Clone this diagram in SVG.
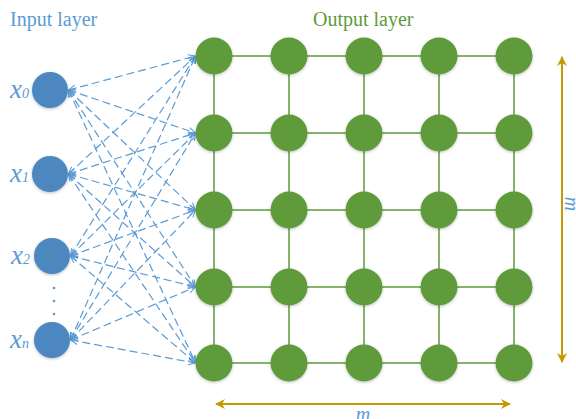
<svg xmlns="http://www.w3.org/2000/svg" width="576" height="419" viewBox="0 0 576 419">
  <style>
    .title { font-family: "Liberation Serif", "Times New Roman", serif; font-size: 20px; }
    .var { font-family: "Liberation Serif", "Times New Roman", serif; font-style: italic; fill: #5B9BD5; }
    .in { fill: #4E87C0; filter: url(#shadow); }
    .out { fill: #5E9A3B; filter: url(#shadow); }
    .grid line { stroke: #5E9A3B; stroke-width: 1.5; }
    .link { stroke: #5B9BD5; stroke-width: 1.2; stroke-dasharray: 8 4; fill: none; marker-start: url(#vee); marker-end: url(#vee); }
    .dim { stroke: #C49A00; stroke-width: 2; marker-start: url(#tri); marker-end: url(#tri); }
  </style>
  <defs>
    <filter id="shadow" x="-30%" y="-30%" width="160%" height="160%">
      <feGaussianBlur in="SourceAlpha" stdDeviation="1.5"/>
      <feOffset dx="0" dy="1" result="b"/>
      <feFlood flood-color="#000" flood-opacity="0.25"/>
      <feComposite in2="b" operator="in"/>
      <feMerge><feMergeNode/><feMergeNode in="SourceGraphic"/></feMerge>
    </filter>
    <marker id="vee" viewBox="0 0 10 10" refX="10" refY="5" markerWidth="8" markerHeight="8" markerUnits="userSpaceOnUse" orient="auto-start-reverse">
      <path d="M1,1 L10,5 L1,9" fill="none" stroke="#5B9BD5" stroke-width="1.3"/>
    </marker>
    <marker id="tri" viewBox="0 0 10 10" refX="9" refY="5" markerWidth="10" markerHeight="10" markerUnits="userSpaceOnUse" orient="auto-start-reverse">
      <path d="M0,0 L10,5 L0,10 L3,5 Z" fill="#C49A00"/>
    </marker>
  </defs>

  <!-- layer titles -->
  <text class="title" x="10" y="26" fill="#5B9BD5">Input layer</text>
  <text class="title" x="313" y="26" fill="#5E9A3B">Output layer</text>

  <!-- lattice edges between output neurons -->
  <g id="grid" class="grid">
    <line x1="214" y1="56" x2="514" y2="56"/>
    <line x1="214" y1="133" x2="514" y2="133"/>
    <line x1="214" y1="210" x2="514" y2="210"/>
    <line x1="214" y1="287" x2="514" y2="287"/>
    <line x1="214" y1="363" x2="514" y2="363"/>
    <line x1="214" y1="56" x2="214" y2="363"/>
    <line x1="289" y1="56" x2="289" y2="363"/>
    <line x1="364" y1="56" x2="364" y2="363"/>
    <line x1="439" y1="56" x2="439" y2="363"/>
    <line x1="514" y1="56" x2="514" y2="363"/>
  </g>

  <!-- input-to-output connections -->
  <g id="connectors">
    <line class="link" x1="68.5" y1="90" x2="195.5" y2="56"/>
    <line class="link" x1="68.5" y1="90" x2="195.5" y2="133"/>
    <line class="link" x1="68.5" y1="90" x2="195.5" y2="210"/>
    <line class="link" x1="68.5" y1="90" x2="195.5" y2="287"/>
    <line class="link" x1="68.5" y1="90" x2="195.5" y2="363"/>
    <line class="link" x1="68.5" y1="174" x2="195.5" y2="56"/>
    <line class="link" x1="68.5" y1="174" x2="195.5" y2="133"/>
    <line class="link" x1="68.5" y1="174" x2="195.5" y2="210"/>
    <line class="link" x1="68.5" y1="174" x2="195.5" y2="287"/>
    <line class="link" x1="68.5" y1="174" x2="195.5" y2="363"/>
    <line class="link" x1="70.5" y1="256" x2="195.5" y2="56"/>
    <line class="link" x1="70.5" y1="256" x2="195.5" y2="133"/>
    <line class="link" x1="70.5" y1="256" x2="195.5" y2="210"/>
    <line class="link" x1="70.5" y1="256" x2="195.5" y2="287"/>
    <line class="link" x1="70.5" y1="256" x2="195.5" y2="363"/>
    <line class="link" x1="70.5" y1="340" x2="195.5" y2="56"/>
    <line class="link" x1="70.5" y1="340" x2="195.5" y2="133"/>
    <line class="link" x1="70.5" y1="340" x2="195.5" y2="210"/>
    <line class="link" x1="70.5" y1="340" x2="195.5" y2="287"/>
    <line class="link" x1="70.5" y1="340" x2="195.5" y2="363"/>
  </g>

  <!-- input neurons -->
  <g id="in0"><circle class="in" cx="50" cy="90" r="18"/><text class="var" x="10" y="98"><tspan font-size="27">x</tspan><tspan font-size="14">0</tspan></text></g>
  <g id="in1"><circle class="in" cx="50" cy="174" r="18"/><text class="var" x="10" y="182"><tspan font-size="27">x</tspan><tspan font-size="14">1</tspan></text></g>
  <g id="in2"><circle class="in" cx="52" cy="256" r="18"/><text class="var" x="11" y="264"><tspan font-size="27">x</tspan><tspan font-size="14">2</tspan></text></g>
  <g id="inn"><circle class="in" cx="52" cy="340" r="18"/><text class="var" x="10" y="348"><tspan font-size="27">x</tspan><tspan font-size="14">n</tspan></text></g>
  <g id="ellipsis" fill="#5B9BD5">
    <circle cx="54" cy="288" r="1.3"/>
    <circle cx="54" cy="301" r="1.3"/>
    <circle cx="54" cy="314" r="1.3"/>
  </g>

  <!-- output neurons, row by row -->
  <g id="out-r1">
    <circle class="out" cx="214" cy="56" r="18.5"/><circle class="out" cx="289" cy="56" r="18.5"/><circle class="out" cx="364" cy="56" r="18.5"/><circle class="out" cx="439" cy="56" r="18.5"/><circle class="out" cx="514" cy="56" r="18.5"/>
  </g>
  <g id="out-r2">
    <circle class="out" cx="214" cy="133" r="18.5"/><circle class="out" cx="289" cy="133" r="18.5"/><circle class="out" cx="364" cy="133" r="18.5"/><circle class="out" cx="439" cy="133" r="18.5"/><circle class="out" cx="514" cy="133" r="18.5"/>
  </g>
  <g id="out-r3">
    <circle class="out" cx="214" cy="210" r="18.5"/><circle class="out" cx="289" cy="210" r="18.5"/><circle class="out" cx="364" cy="210" r="18.5"/><circle class="out" cx="439" cy="210" r="18.5"/><circle class="out" cx="514" cy="210" r="18.5"/>
  </g>
  <g id="out-r4">
    <circle class="out" cx="214" cy="287" r="18.5"/><circle class="out" cx="289" cy="287" r="18.5"/><circle class="out" cx="364" cy="287" r="18.5"/><circle class="out" cx="439" cy="287" r="18.5"/><circle class="out" cx="514" cy="287" r="18.5"/>
  </g>
  <g id="out-r5">
    <circle class="out" cx="214" cy="363" r="18.5"/><circle class="out" cx="289" cy="363" r="18.5"/><circle class="out" cx="364" cy="363" r="18.5"/><circle class="out" cx="439" cy="363" r="18.5"/><circle class="out" cx="514" cy="363" r="18.5"/>
  </g>

  <!-- map size dimensions -->
  <g id="dim-v">
    <line class="dim" x1="562" y1="57" x2="562" y2="362"/>
    <text class="var" font-size="20" transform="translate(565,204) rotate(90)" text-anchor="middle">m</text>
  </g>
  <g id="dim-h">
    <line class="dim" x1="216" y1="404" x2="510" y2="404"/>
    <text class="var" font-size="20" x="363" y="421" text-anchor="middle">m</text>
  </g>
</svg>
